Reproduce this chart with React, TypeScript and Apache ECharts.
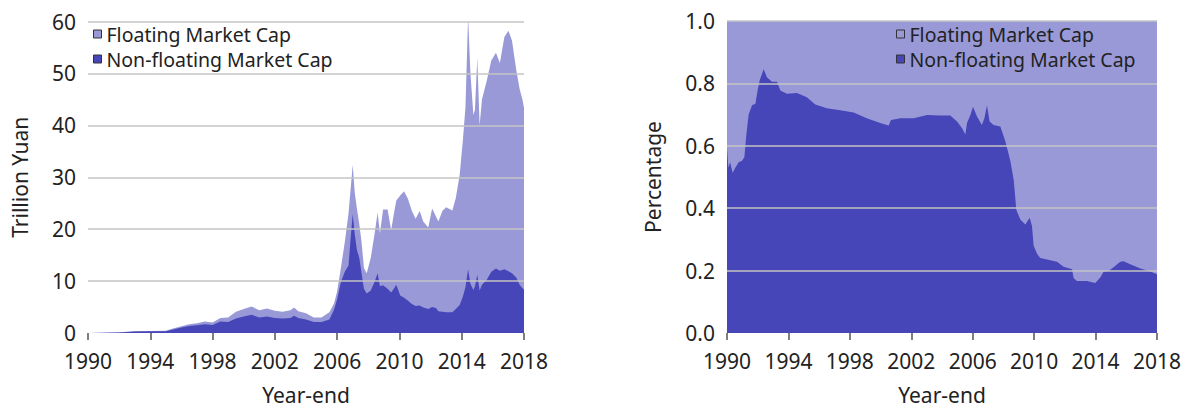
import React, { useEffect, useRef } from 'react';
import * as echarts from 'echarts';

// Left chart: market capitalisation, trillion yuan (year-end position on x axis)
const capDates = [
  1990.0, 1991.0, 1992.0, 1993.0, 1994.0, 1995.0, 1995.4, 1996.0, 1996.5, 1997.0,
  1997.5, 1998.0, 1998.5, 1999.0, 1999.5, 2000.0, 2000.5, 2001.0, 2001.5, 2002.0,
  2002.5, 2003.0, 2003.24, 2003.5, 2004.0, 2004.5, 2005.0, 2005.5, 2005.8, 2006.0,
  2006.24, 2006.49, 2006.73, 2006.86, 2007.0, 2007.13, 2007.27, 2007.42, 2007.57, 2007.72,
  2007.9, 2008.16, 2008.4, 2008.6, 2008.75, 2008.95, 2009.24, 2009.47, 2009.64, 2009.8,
  2010.05, 2010.3, 2010.55, 2010.8, 2011.04, 2011.3, 2011.53, 2011.85, 2012.1, 2012.34,
  2012.5, 2012.76, 2013.0, 2013.4, 2013.62, 2013.87, 2014.07, 2014.24, 2014.41, 2014.56,
  2014.75, 2014.85, 2015.0, 2015.15, 2015.3, 2015.6, 2015.9, 2016.2, 2016.45, 2016.74,
  2017.0, 2017.23, 2017.5, 2017.72, 2017.9, 2018.0,
];
const nonFloatingCap = [
  0, 0.03, 0.1, 0.28, 0.32, 0.36, 0.65, 1.05, 1.35, 1.5,
  1.7, 1.55, 2.2, 2.1, 2.8, 3.2, 3.5, 3.0, 3.2, 2.9,
  2.8, 2.9, 3.3, 2.9, 2.6, 2.1, 2.1, 2.6, 4.5, 6.5,
  9.8, 11.8, 13.0, 18.0, 22.9, 19.0, 16.0, 14.5, 11.5, 8.5,
  7.6, 8.2, 9.8, 11.5, 9.0, 9.2, 8.5, 7.8, 8.5, 9.3,
  7.2, 6.8, 6.2, 5.6, 5.2, 5.3, 4.9, 4.6, 5.0, 4.8,
  4.2, 4.1, 4.0, 4.0, 4.6, 5.4, 7.0, 8.8, 12.3, 9.5,
  8.3, 9.0, 11.2, 8.2, 9.3, 10.2, 11.8, 12.4, 12.0, 12.3,
  11.9, 11.5, 10.7, 9.3, 8.6, 8.4,
];
const floatingCap = [
  0, 0.02, 0.05, 0.07, 0.08, 0.09, 0.15, 0.25, 0.35, 0.4,
  0.5, 0.45, 0.7, 0.9, 1.3, 1.4, 1.6, 1.4, 1.5, 1.4,
  1.3, 1.5, 1.6, 1.3, 1.2, 0.9, 0.9, 1.4, 1.2, 1.5,
  2.7, 5.7, 10.0, 9.5, 9.5, 8.0, 8.0, 6.5, 6.0, 4.0,
  3.9, 6.3, 9.2, 11.7, 10.2, 14.6, 15.3, 12.0, 14.4, 16.2,
  19.3, 20.5, 19.6, 17.9, 16.8, 18.2, 16.6, 15.7, 19.0, 17.7,
  17.3, 19.4, 20.2, 19.6, 21.4, 25.1, 30.0, 34.7, 48.7, 40.5,
  33.7, 34.0, 41.8, 31.8, 35.7, 38.3, 40.7, 41.6, 40.0, 44.7,
  46.3, 44.8, 40.0, 37.7, 36.4, 35.0,
];

// Right chart: share of non-floating market cap
const shareDates = [
  1990.0, 1990.09, 1990.2, 1990.37, 1990.54, 1990.76, 1990.98, 1991.13, 1991.26, 1991.41,
  1991.63, 1991.85, 1992.0, 1992.13, 1992.39, 1992.6, 1992.93, 1993.26, 1993.47, 1993.9,
  1994.56, 1995.2, 1995.75, 1996.5, 1997.38, 1998.25, 1999.1, 1999.98, 2000.53, 2000.68,
  2001.29, 2002.16, 2003.02, 2003.89, 2004.54, 2004.98, 2005.3, 2005.52, 2005.63, 2005.85,
  2006.02, 2006.28, 2006.6, 2006.76, 2006.93, 2007.1, 2007.36, 2007.8, 2008.12, 2008.45,
  2008.67, 2008.84, 2009.1, 2009.43, 2009.71, 2009.86, 2009.97, 2010.19, 2010.4, 2011.06,
  2011.49, 2011.92, 2012.47, 2012.57, 2012.79, 2013.44, 2013.98, 2014.31, 2014.53, 2014.85,
  2015.07, 2015.61, 2015.83, 2016.26, 2016.92, 2017.57, 2018.0,
];
const nonFloatingShare = [
  0.594, 0.53, 0.547, 0.514, 0.53, 0.547, 0.552, 0.563, 0.636, 0.70,
  0.73, 0.735, 0.78, 0.81, 0.845, 0.82, 0.805, 0.805, 0.777, 0.767,
  0.769, 0.756, 0.732, 0.72, 0.714, 0.707, 0.688, 0.673, 0.665, 0.683,
  0.688, 0.688, 0.699, 0.697, 0.697, 0.678, 0.657, 0.636, 0.673, 0.699,
  0.725, 0.694, 0.667, 0.688, 0.73, 0.678, 0.667, 0.662, 0.615, 0.552,
  0.49, 0.395, 0.364, 0.348, 0.369, 0.343, 0.28, 0.254, 0.24, 0.233,
  0.228, 0.212, 0.204, 0.176, 0.167, 0.167, 0.16, 0.178, 0.197, 0.199,
  0.207, 0.228, 0.23, 0.22, 0.207, 0.197, 0.188,
];

const FLOAT = 'Floating Market Cap';
const NONFLOAT = 'Non-floating Market Cap';
const LIGHT = '#9999d8';
const DARK = '#4646b9';
const FONT = 'Noto Sans';

export default function App() {
  const ref = useRef<HTMLDivElement>(null);
  useEffect(() => {
    document.body.style.margin = '0';
    const chart = echarts.init(ref.current!, null, { renderer: 'svg' });

    const xAxisBase = (gridIndex: number) => ({
      type: 'value',
      gridIndex,
      min: 1990,
      max: 2018,
      interval: 4,
      name: 'Year-end',
      nameLocation: 'middle',
      nameGap: 51,
      nameTextStyle: { fontSize: 21, color: '#222', fontFamily: FONT },
      axisLine: { show: false },
      axisTick: { show: true, length: 7, lineStyle: { color: '#555', width: 1.5 } },
      axisLabel: { fontSize: 21, color: '#222', margin: 17, fontFamily: FONT, formatter: (v: number) => String(v) },
      splitLine: { show: false },
    });

    const yAxisBase = (gridIndex: number, max: number, interval: number, name: string, gap: number, fmt: (v: number) => string) => ({
      type: 'value',
      gridIndex,
      min: 0,
      max,
      interval,
      name,
      nameLocation: 'middle',
      nameGap: gap,
      nameTextStyle: { fontSize: 21, color: '#222', fontFamily: FONT },
      z: 5,
      axisLine: { show: false },
      axisTick: { show: false },
      axisLabel: { fontSize: 21, color: '#222', margin: 12, fontFamily: FONT, formatter: fmt },
      splitLine: { show: true, showMinLine: false, lineStyle: { color: '#c4c4c4', width: 1.5 } },
    });

    // Areas drawn from zero: the floating area's top edge is the running total
    // (non-floating + floating), and the non-floating area is painted over it.
    const areaSeries = (name: string, color: string, xi: number, data: number[][]) => ({
      name,
      type: 'line',
      xAxisIndex: xi,
      yAxisIndex: xi,
      data,
      showSymbol: false,
      symbol: 'none',
      color,
      itemStyle: { color },
      lineStyle: { width: 0, color },
      areaStyle: { color, opacity: 1 },
      emphasis: { disabled: true },
    });

    const legendBase = (left: number) => ({
      left,
      top: 19,
      orient: 'vertical',
      icon: 'rect',
      itemWidth: 8,
      itemHeight: 8,
      itemGap: 5,
      data: [FLOAT, NONFLOAT],
      textStyle: { fontSize: 19.5, lineHeight: 19, color: '#222', fontFamily: FONT },
      itemStyle: { borderColor: '#333', borderWidth: 1 },
    });

    const capTotal = capDates.map((d, i) => [d, +(nonFloatingCap[i] + floatingCap[i]).toFixed(3)]);
    const shareTotal = shareDates.map((d, i) => [d, +(nonFloatingShare[i] + (1 - nonFloatingShare[i])).toFixed(3)]);

    chart.setOption({
      animation: false,
      textStyle: { fontFamily: FONT },
      grid: [
        { left: 88, top: 21.5, width: 436, height: 317.5 },
        { left: 727, top: 21, width: 430, height: 318 },
      ],
      legend: [legendBase(88), legendBase(891)],
      xAxis: [xAxisBase(0), xAxisBase(1)],
      yAxis: [
        yAxisBase(0, 60, 10, 'Trillion Yuan', 58, (v: number) => String(v)),
        yAxisBase(1, 1, 0.2, 'Percentage', 64, (v: number) => v.toFixed(1)),
      ],
      series: [
        areaSeries(FLOAT, LIGHT, 0, capTotal),
        areaSeries(NONFLOAT, DARK, 0, capDates.map((d, i) => [d, nonFloatingCap[i]])),
        areaSeries(FLOAT, LIGHT, 1, shareTotal),
        areaSeries(NONFLOAT, DARK, 1, shareDates.map((d, i) => [d, nonFloatingShare[i]])),
      ],
    });
    return () => chart.dispose();
  }, []);
  return <div ref={ref} style={{ width: 1184, height: 410 }} />;
}
